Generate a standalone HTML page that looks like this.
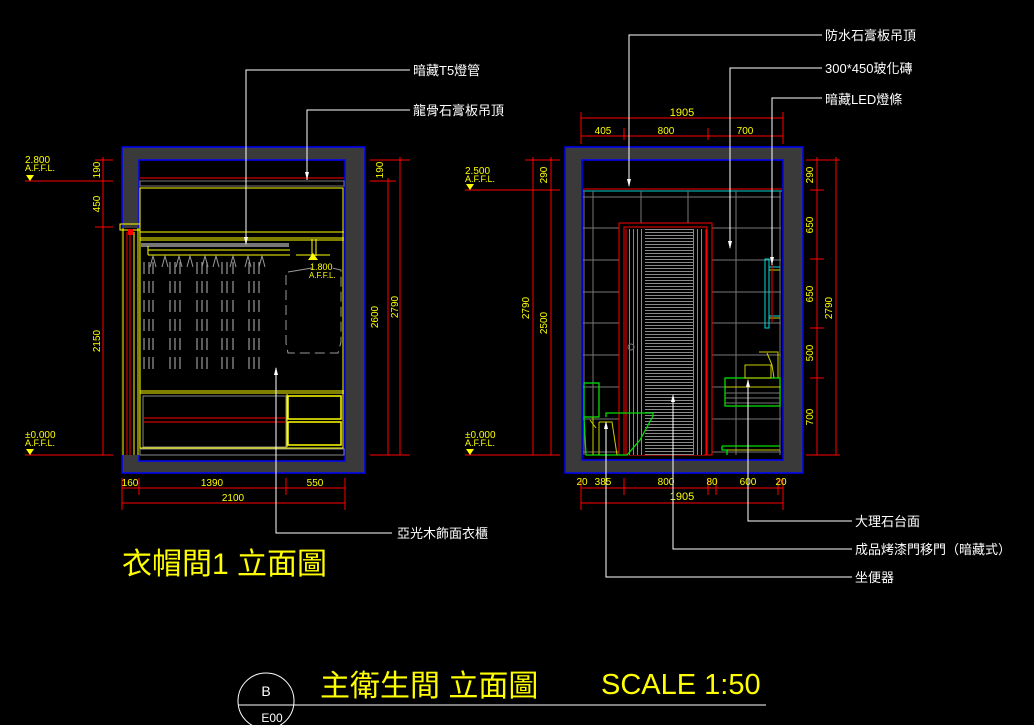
<!DOCTYPE html>
<html><head><meta charset="utf-8"><style>
html,body{margin:0;padding:0;background:#000;}
svg{display:block;}
text{font-family:"Liberation Sans","Noto Sans CJK TC","WenQuanYi Zen Hei",sans-serif;}
</style></head><body>
<svg width="1034" height="725" viewBox="0 0 1034 725" xmlns="http://www.w3.org/2000/svg">
<defs>
<pattern id="hs" width="4" height="3" patternUnits="userSpaceOnUse"><rect width="4" height="3" fill="#000"/><line x1="0" y1="1.5" x2="4" y2="1.5" stroke="#8a8a8a" stroke-width="1"/></pattern>
<pattern id="vs" width="4" height="6" patternUnits="userSpaceOnUse"><rect width="4" height="6" fill="#000"/><line x1="1.5" y1="0" x2="1.5" y2="6" stroke="#8a8a8a" stroke-width="1"/></pattern>
</defs>
<rect width="1034" height="725" fill="#000"/>

<!-- ===== LEFT DRAWING ===== -->
<rect x="122" y="147" width="243" height="326" fill="#3a3a3a" stroke="#0000ff" stroke-width="1.5"/>
<rect x="139" y="160" width="206" height="301" fill="#000" stroke="#0000ff" stroke-width="1.5"/>
<rect x="122" y="228" width="17" height="227" fill="#000"/>
<line x1="140" y1="178" x2="344" y2="178" stroke="#ff0000"/>
<line x1="140" y1="181" x2="344" y2="181" stroke="#00c0c0"/>
<rect x="140" y="181" width="204" height="5" fill="none" stroke="#777"/>
<rect x="140" y="188" width="203" height="260" fill="none" stroke="#ffff00"/>
<line x1="140" y1="232" x2="344" y2="232" stroke="#ffff00"/>
<line x1="140" y1="238" x2="344" y2="238" stroke="#ffff00"/>
<line x1="140" y1="240" x2="344" y2="240" stroke="#ffff00"/>
<rect x="141" y="243" width="148" height="4" fill="#777"/>
<line x1="148" y1="250" x2="290" y2="250" stroke="#ffff00"/>
<line x1="148" y1="255" x2="290" y2="255" stroke="#ffff00"/>
<line x1="148" y1="246" x2="148" y2="255" stroke="#ffff00"/>
<line x1="312" y1="239" x2="312" y2="256" stroke="#ffff00"/>
<line x1="316" y1="239" x2="316" y2="256" stroke="#ffff00"/>
<line x1="296" y1="255" x2="330" y2="255" stroke="#ffff00"/>
<polygon points="313,253 308,260 318,260" fill="#ffff00"/>
<text x="310" y="270" font-size="9" fill="#ffff00">1.800</text>
<text x="309" y="278" font-size="8" fill="#ffff00">A.F.F.L.</text>
<line x1="123" y1="228" x2="123" y2="455" stroke="#ffff00"/>
<line x1="127" y1="232" x2="127" y2="455" stroke="#ff0000"/>
<line x1="130" y1="232" x2="130" y2="455" stroke="#ff0000"/>
<line x1="134" y1="232" x2="134" y2="455" stroke="#ffff00"/>
<line x1="138" y1="228" x2="138" y2="455" stroke="#ffff00"/>
<rect x="120" y="224" width="20" height="6" fill="none" stroke="#ffff00"/>
<rect x="128" y="229" width="5" height="6" fill="#ff0000"/>
<g stroke="#999" stroke-width="1.2" stroke-dasharray="12,7">
<line x1="144" y1="262" x2="144" y2="372"/><line x1="149" y1="262" x2="149" y2="372"/><line x1="153" y1="262" x2="153" y2="372"/>
<line x1="170" y1="262" x2="170" y2="372"/><line x1="175" y1="262" x2="175" y2="372"/><line x1="180" y1="262" x2="180" y2="372"/>
<line x1="197" y1="262" x2="197" y2="372"/><line x1="202" y1="262" x2="202" y2="372"/><line x1="207" y1="262" x2="207" y2="372"/>
<line x1="222" y1="262" x2="222" y2="372"/><line x1="227" y1="262" x2="227" y2="372"/><line x1="233" y1="262" x2="233" y2="372"/>
<line x1="249" y1="262" x2="249" y2="372"/><line x1="254" y1="262" x2="254" y2="372"/><line x1="259" y1="262" x2="259" y2="372"/>
</g>
<g stroke="#999" fill="none">
<polyline points="156,267 153,256 150,267"/><polyline points="168,267 165,256 162,267"/>
<polyline points="182,267 179,256 176,267"/><polyline points="193,267 190,256 187,267"/>
<polyline points="208,267 205,256 202,267"/><polyline points="219,267 216,256 213,267"/>
<polyline points="236,267 233,256 230,267"/><polyline points="251,267 248,256 245,267"/>
<polyline points="265,267 262,256 259,267"/>
<polyline points="288,272 312,268"/>
<polyline points="286,275 286,343 288,353 338,353 341,342 341,270 332,268" stroke-dasharray="10,5"/>
</g>
<line x1="140" y1="391" x2="344" y2="391" stroke="#ffff00"/>
<line x1="140" y1="393" x2="344" y2="393" stroke="#ffff00"/>
<rect x="143" y="396" width="143" height="51" fill="none" stroke="#888"/>
<line x1="143" y1="418" x2="286" y2="418" stroke="#ff0000"/>
<line x1="143" y1="422" x2="286" y2="422" stroke="#ff0000"/>
<line x1="287" y1="394" x2="287" y2="447" stroke="#ffff00"/>
<rect x="288" y="396" width="53" height="23" fill="none" stroke="#ffff00" stroke-width="1.5"/>
<rect x="288" y="422" width="53" height="23" fill="none" stroke="#ffff00" stroke-width="1.5"/>
<rect x="140" y="449" width="204" height="6" fill="none" stroke="#888"/>
<g stroke="#ff0000" stroke-width="1">
<line x1="25" y1="181" x2="113" y2="181"/><line x1="25" y1="455" x2="113" y2="455"/>
<line x1="103" y1="157" x2="103" y2="455"/>
<line x1="95" y1="160" x2="113" y2="160"/><line x1="95" y1="227" x2="113" y2="227"/>
<line x1="370" y1="160" x2="410" y2="160"/><line x1="370" y1="181" x2="396" y2="181"/><line x1="370" y1="455" x2="410" y2="455"/>
<line x1="388" y1="178" x2="388" y2="455"/><line x1="400" y1="157" x2="400" y2="455"/>
<line x1="122" y1="488" x2="345" y2="488"/><line x1="122" y1="503" x2="345" y2="503"/>
<line x1="122" y1="478" x2="122" y2="510"/><line x1="139" y1="478" x2="139" y2="495"/><line x1="286" y1="478" x2="286" y2="495"/><line x1="345" y1="478" x2="345" y2="510"/>
</g>
<g fill="#ffff00" font-size="10">
<text x="25" y="163" font-size="10">2.800</text><text x="25" y="171" font-size="9">A.F.F.L.</text>
<polygon points="26,175 34,175 30,181"/>
<text x="25" y="438" font-size="10">±0.000</text><text x="25" y="446" font-size="9">A.F.F.L.</text>
<polygon points="26,449 34,449 30,455"/>
<text transform="translate(100,170) rotate(-90)" text-anchor="middle">190</text>
<text transform="translate(100,204) rotate(-90)" text-anchor="middle">450</text>
<text transform="translate(100,341) rotate(-90)" text-anchor="middle">2150</text>
<text transform="translate(383,170) rotate(-90)" text-anchor="middle">190</text>
<text transform="translate(378,317) rotate(-90)" text-anchor="middle">2600</text>
<text transform="translate(398,307) rotate(-90)" text-anchor="middle">2790</text>
<text x="130" y="486" text-anchor="middle">160</text>
<text x="212" y="486" text-anchor="middle">1390</text>
<text x="315" y="486" text-anchor="middle">550</text>
<text x="233" y="501" text-anchor="middle">2100</text>
</g>
<g stroke="#fff" stroke-width="1" fill="none">
<polyline points="246,244 246,70 410,70"/>
<polyline points="307,180 307,110 410,110"/>
<polyline points="276,368 276,533 392,533"/>
</g>
<g fill="#fff">
<polygon points="244,237 248,237 246,245"/><polygon points="305,172 309,172 307,180"/><polygon points="274,375 278,375 276,367"/>
</g>
<g fill="#fff" font-size="13">
<text x="413" y="75">暗藏T5燈管</text>
<text x="413" y="115">龍骨石膏板吊頂</text>
<text x="397" y="538">亞光木飾面衣櫃</text>
</g>
<text x="122" y="574" font-size="30" fill="#ffff00">衣帽間1 立面圖</text>

<!-- ===== RIGHT DRAWING ===== -->
<rect x="565" y="147" width="238" height="326" fill="#3a3a3a" stroke="#0000ff" stroke-width="1.5"/>
<rect x="582" y="160" width="201" height="300" fill="#000" stroke="#0000ff" stroke-width="1.5"/>
<line x1="583" y1="189" x2="782" y2="189" stroke="#ff0000"/>
<line x1="583" y1="191" x2="782" y2="191" stroke="#00d0d0"/>
<g stroke="#777" stroke-width="1">
<line x1="583" y1="197" x2="781" y2="197"/>
<line x1="583" y1="260" x2="619" y2="260"/><line x1="712" y1="260" x2="781" y2="260"/>
<line x1="583" y1="292" x2="619" y2="292"/><line x1="712" y1="292" x2="781" y2="292"/>
<line x1="583" y1="323" x2="619" y2="323"/><line x1="712" y1="323" x2="781" y2="323"/>
<line x1="583" y1="355" x2="619" y2="355"/><line x1="712" y1="355" x2="781" y2="355"/>
<line x1="583" y1="387" x2="619" y2="387"/><line x1="712" y1="387" x2="781" y2="387"/>
<line x1="583" y1="419" x2="619" y2="419"/><line x1="712" y1="419" x2="781" y2="419"/>
<line x1="583" y1="452" x2="781" y2="452"/>
<line x1="584" y1="191" x2="584" y2="455"/><line x1="593" y1="191" x2="593" y2="455"/>
<line x1="641" y1="191" x2="641" y2="223"/><line x1="688" y1="191" x2="688" y2="223"/>
<line x1="736" y1="191" x2="736" y2="455"/><line x1="780" y1="191" x2="780" y2="455"/>
<line x1="583" y1="228" x2="619" y2="228"/><line x1="712" y1="228" x2="781" y2="228"/>
</g>
<rect x="619" y="223" width="93" height="232" fill="#000" stroke="#ff0000"/>
<rect x="624" y="227" width="83" height="228" fill="none" stroke="#ff0000"/>
<rect x="627" y="229" width="17" height="226" fill="url(#vs)"/>
<rect x="693" y="229" width="11" height="226" fill="url(#vs)"/>
<rect x="645" y="229" width="48" height="226" fill="url(#hs)"/>
<line x1="626" y1="229" x2="626" y2="455" stroke="#ff0000"/>
<line x1="706" y1="229" x2="706" y2="455" stroke="#ff0000"/>
<circle cx="631" cy="347" r="3" fill="none" stroke="#777"/>
<g fill="none" stroke="#00dd00" stroke-width="1.3">
<rect x="584" y="383" width="15" height="34"/>
<polyline points="584,417 586,455 627,455 640,440 653,416 653,413 606,413 606,417"/>
</g>
<g fill="none" stroke="#cccc00" stroke-width="1">
<polyline points="593,417 593,455"/><polyline points="599,422 599,455"/><polyline points="599,422 612,422 617,455"/><line x1="590" y1="420" x2="596" y2="428"/>
</g>
<g fill="none">
<rect x="725" y="378" width="55" height="28" stroke="#00dd00" stroke-width="1.3"/>
<line x1="725" y1="387" x2="780" y2="387" stroke="#cccc00"/>
<line x1="725" y1="393" x2="780" y2="393" stroke="#777"/><line x1="725" y1="398" x2="780" y2="398" stroke="#777"/><line x1="725" y1="403" x2="780" y2="403" stroke="#777"/>
<rect x="745" y="365" width="26" height="13" stroke="#cccc00"/>
<polyline points="759,352 778,352 778,378" stroke="#cccc00"/>
<polyline points="767,353 772,365 774,378" stroke="#cccc00"/>
<polyline points="722,446 722,450 727,450 727,455" stroke="#00dd00" stroke-width="1.3"/>
<line x1="722" y1="446" x2="780" y2="446" stroke="#00dd00" stroke-width="1.3"/>
<line x1="727" y1="450" x2="780" y2="450" stroke="#cccc00"/>
<rect x="765" y="259" width="4" height="69" stroke="#00dddd"/>
<line x1="769" y1="267" x2="780" y2="267" stroke="#00dddd"/><line x1="769" y1="316" x2="780" y2="316" stroke="#00dddd"/>
<line x1="769" y1="270" x2="780" y2="270" stroke="#cccc00"/><line x1="769" y1="318" x2="780" y2="318" stroke="#cccc00"/>
<line x1="772" y1="246" x2="772" y2="322" stroke="#ff0000"/>
</g>
<g stroke="#ff0000" stroke-width="1">
<line x1="465" y1="190" x2="560" y2="190"/><line x1="465" y1="455" x2="560" y2="455"/>
<line x1="525" y1="160" x2="560" y2="160"/>
<line x1="533" y1="157" x2="533" y2="455"/><line x1="551" y1="157" x2="551" y2="455"/>
<line x1="806" y1="160" x2="840" y2="160"/><line x1="806" y1="455" x2="840" y2="455"/>
<line x1="810" y1="190" x2="824" y2="190"/><line x1="810" y1="259" x2="824" y2="259"/><line x1="810" y1="328" x2="824" y2="328"/><line x1="810" y1="378" x2="824" y2="378"/>
<line x1="817" y1="157" x2="817" y2="455"/><line x1="836" y1="157" x2="836" y2="455"/>
<line x1="581" y1="118" x2="783" y2="118"/><line x1="581" y1="136" x2="783" y2="136"/>
<line x1="581" y1="112" x2="581" y2="144"/><line x1="624" y1="128" x2="624" y2="140"/><line x1="708" y1="128" x2="708" y2="140"/><line x1="783" y1="112" x2="783" y2="144"/>
<line x1="581" y1="488" x2="783" y2="488"/><line x1="581" y1="503" x2="783" y2="503"/>
<line x1="581" y1="478" x2="581" y2="510"/><line x1="624" y1="478" x2="624" y2="495"/><line x1="708" y1="478" x2="708" y2="495"/><line x1="716" y1="478" x2="716" y2="495"/><line x1="778" y1="478" x2="778" y2="495"/><line x1="783" y1="478" x2="783" y2="510"/>
</g>
<g fill="#ffff00" font-size="10">
<text x="682" y="116" text-anchor="middle" font-size="11">1905</text>
<text x="603" y="134" text-anchor="middle">405</text>
<text x="666" y="134" text-anchor="middle">800</text>
<text x="745" y="134" text-anchor="middle">700</text>
<text x="465" y="174" font-size="10">2.500</text><text x="465" y="182" font-size="9">A.F.F.L.</text>
<polygon points="466,184 474,184 470,190"/>
<text x="465" y="438" font-size="10">±0.000</text><text x="465" y="446" font-size="9">A.F.F.L.</text>
<polygon points="466,449 474,449 470,455"/>
<text transform="translate(547,175) rotate(-90)" text-anchor="middle">290</text>
<text transform="translate(529,308) rotate(-90)" text-anchor="middle">2790</text>
<text transform="translate(547,323) rotate(-90)" text-anchor="middle">2500</text>
<text transform="translate(813,175) rotate(-90)" text-anchor="middle">290</text>
<text transform="translate(813,225) rotate(-90)" text-anchor="middle">650</text>
<text transform="translate(813,294) rotate(-90)" text-anchor="middle">650</text>
<text transform="translate(813,353) rotate(-90)" text-anchor="middle">500</text>
<text transform="translate(813,417) rotate(-90)" text-anchor="middle">700</text>
<text transform="translate(832,308) rotate(-90)" text-anchor="middle">2790</text>
<text x="582" y="485" text-anchor="middle">20</text>
<text x="603" y="485" text-anchor="middle">385</text>
<text x="666" y="485" text-anchor="middle">800</text>
<text x="712" y="485" text-anchor="middle">80</text>
<text x="748" y="485" text-anchor="middle">600</text>
<text x="781" y="485" text-anchor="middle">20</text>
<text x="682" y="500" text-anchor="middle" font-size="11">1905</text>
</g>
<g stroke="#fff" stroke-width="1" fill="none">
<polyline points="629,186 629,35 822,35"/>
<polyline points="730,248 730,68 822,68"/>
<polyline points="772,265 772,98 822,98"/>
<polyline points="748,380 748,521 852,521"/>
<polyline points="673,395 673,549 852,549"/>
<polyline points="606,422 606,577 852,577"/>
</g>
<g fill="#fff">
<polygon points="627,179 631,179 629,187"/><polygon points="728,241 732,241 730,249"/><polygon points="770,257 774,257 772,265"/>
<polygon points="746,387 750,387 748,379"/><polygon points="671,402 675,402 673,394"/><polygon points="604,429 608,429 606,421"/>
</g>
<g fill="#fff" font-size="13">
<text x="825" y="40">防水石膏板吊頂</text>
<text x="825" y="73">300*450玻化磚</text>
<text x="825" y="104">暗藏LED燈條</text>
<text x="855" y="526">大理石台面</text>
<text x="855" y="554">成品烤漆門移門（暗藏式）</text>
<text x="855" y="582">坐便器</text>
</g>

<circle cx="266" cy="701" r="28" fill="none" stroke="#fff" stroke-width="1"/>
<line x1="238" y1="705" x2="766" y2="705" stroke="#fff" stroke-width="1"/>
<text x="266" y="696" font-size="14" fill="#fff" text-anchor="middle" font-family="Liberation Serif">B</text>
<text x="272" y="722" font-size="12" fill="#fff" text-anchor="middle">E00</text>
<text x="320" y="696" font-size="30" fill="#ffff00">主衛生間 立面圖</text>
<text x="601" y="694" font-size="29" fill="#ffff00">SCALE 1:50</text>
</svg>
</body></html>
